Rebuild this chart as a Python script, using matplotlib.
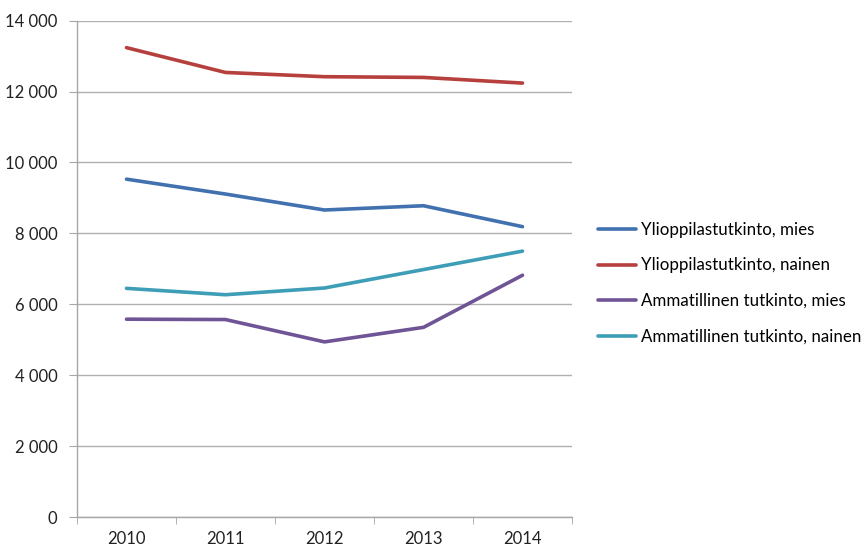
import matplotlib
matplotlib.use("Agg")
import matplotlib.pyplot as plt
from matplotlib.ticker import FuncFormatter, FixedLocator

years = ["2010", "2011", "2012", "2013", "2014"]
yo_mies = [9530, 9110, 8660, 8780, 8190]
yo_nainen = [13240, 12540, 12420, 12400, 12240]
amm_mies = [5580, 5570, 4940, 5350, 6820]
amm_nainen = [6450, 6270, 6460, 6980, 7500]
labels = ["Ylioppilastutkinto, mies", "Ylioppilastutkinto, nainen",
          "Ammatillinen tutkinto, mies", "Ammatillinen tutkinto, nainen"]
colors = ["#4171AF", "#B5403D", "#6F5496", "#3E9DB7"]

plt.rcParams['font.family'] = ['Lato', 'DejaVu Sans']

fig = plt.figure(figsize=(8.67, 5.49), dpi=100)
ax = fig.add_axes([77/867, 1-517/549, (572-77)/867, (517-20.7)/549])

x = list(range(len(years)))
for vals, lab, c in zip([yo_mies, yo_nainen, amm_mies, amm_nainen], labels, colors):
    ax.plot(x, vals, color=c, lw=2.6, label=lab, solid_capstyle='round', solid_joinstyle='round')

ax.set_xlim(-0.5, len(years)-0.5)
ax.set_ylim(0, 14000)
ax.set_yticks(range(0, 14001, 2000))
ax.yaxis.set_major_formatter(FuncFormatter(lambda v, p: f"{int(v):,}".replace(",", " ")))
ax.set_xticks(x)
ax.set_xticklabels(years)
ax.xaxis.set_minor_locator(FixedLocator([i - 0.5 for i in range(len(years)+1)]))
ax.tick_params(axis='x', which='major', length=0, pad=10, labelsize=12, colors='#222222')
ax.tick_params(axis='x', which='minor', length=5, color='#A6A6A6', direction='out')
ax.tick_params(axis='y', length=6, color='#A6A6A6', labelsize=12, pad=8, colors='#222222')
ax.tick_params(axis='y', color='#A6A6A6')
ax.grid(axis='y', color='#B0B0B0', lw=1)
ax.set_axisbelow(True)
for s in ['top', 'right']:
    ax.spines[s].set_visible(False)
for s in ['left', 'bottom']:
    ax.spines[s].set_color('#A6A6A6')
    ax.spines[s].set_linewidth(1)

ax.legend(loc='upper left', bbox_to_anchor=(598/867, 1-222/549), bbox_transform=fig.transFigure,
          frameon=False, fontsize=12.2, handlelength=2.25, handletextpad=0.3,
          labelspacing=1.15, borderpad=0, borderaxespad=0)

fig.savefig("out.png", dpi=100)
